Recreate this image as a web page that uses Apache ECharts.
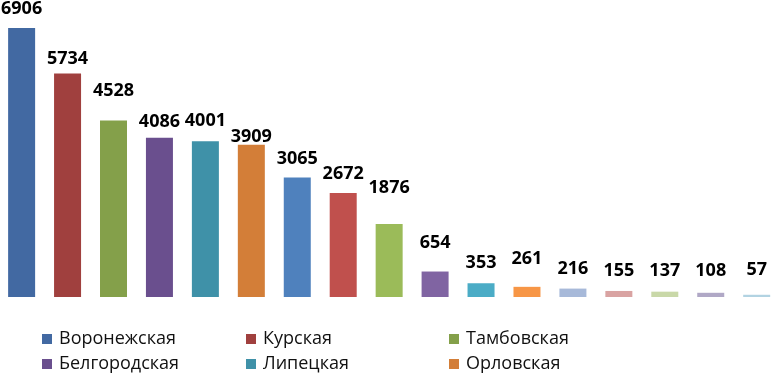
<!DOCTYPE html>
<html><head><meta charset="utf-8">
<script src="https://cdn.jsdelivr.net/npm/echarts@6/dist/echarts.min.js"></script>
<style>html,body{margin:0;padding:0;background:#fff}#c{width:781px;height:374px}</style>
</head><body><div id="c"></div>
<script>
const categories = ['Воронежская','Курская','Тамбовская','Белгородская','Липецкая','Орловская','7','8','9','10','11','12','13','14','15','16','17'];
const values = [6906,5734,4528,4086,4001,3909,3065,2672,1876,654,353,261,216,155,137,108,57];
const legendNames = ['Воронежская','Курская','Тамбовская','Белгородская','Липецкая','Орловская'];
const barColors = ['#4269A2','#A0403E','#84A04A','#6A4F8E','#3F91A8','#D37E38',
  '#4F81BD','#C0504D','#9BBB59','#8064A2','#4BACC6','#F79646',
  '#A7B9D9','#D9A3A2','#C9D8A8','#B0A8C6','#B2D3E2'];
const labelLift = [0,-4,11,-3,1,-11,0,0,17,10,1,9,1,1,2,3,6];

const chart = echarts.init(document.getElementById('c'));
const font = 'Open Sans, Liberation Sans, sans-serif';
const series = [{
  type: 'bar',
  barWidth: 27,
  data: values.map((v, i) => ({
    value: v,
    itemStyle: { color: barColors[i] },
    label: { distance: 10 + labelLift[i] }
  })),
  label: { show: true, position: 'top', color: '#000', fontFamily: font, fontWeight: 'bold', fontSize: 18 },
  silent: true,
  animation: false
}];
legendNames.forEach((n, i) => series.push({ type: 'bar', name: n, data: [], itemStyle: { color: barColors[i] } }));

const legendCols = [[legendNames[0], legendNames[3]], [legendNames[1], legendNames[4]], [legendNames[2], legendNames[5]]];
const legendLeft = [42, 246, 449];
const legends = legendCols.map((d, i) => ({
  data: d, orient: 'vertical', left: legendLeft[i], top: 330,
  itemWidth: 10, itemHeight: 10, itemGap: 7, padding: 0, icon: 'rect',
  selectedMode: false,
  textStyle: { fontFamily: font, fontSize: 18, color: '#111', lineHeight: 18, padding: [0, 0, 0, 2] }
}));

chart.setOption({
  animation: false,
  grid: { left: -3.35, right: -9.4, top: 24.3, bottom: 77 },
  xAxis: { type: 'category', data: categories, show: false },
  yAxis: { type: 'value', min: 0, max: 7000, show: false },
  legend: legends,
  series: series
});
</script></body></html>
